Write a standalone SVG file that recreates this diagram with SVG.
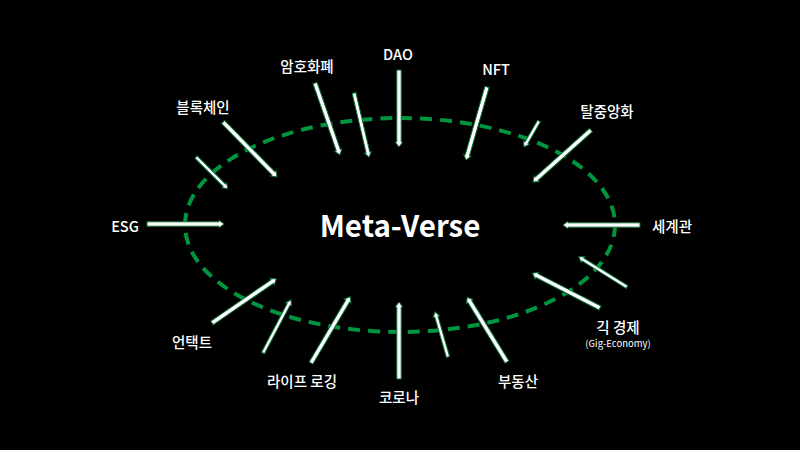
<svg xmlns="http://www.w3.org/2000/svg" width="800" height="450" viewBox="0 0 800 450">
<style>
.lbl{font-family:"Noto Sans CJK KR","Open Sans",sans-serif;font-size:14.5px;font-weight:500;fill:#ffffff;text-anchor:middle}
.sub{font-family:"Noto Sans CJK KR","Open Sans",sans-serif;font-size:9.5px;fill:#ffffff;text-anchor:middle}
.title{font-family:"Noto Sans CJK KR","Open Sans",sans-serif;font-size:29.5px;font-weight:bold;fill:#ffffff;text-anchor:middle}
.arr{fill:#ffffff;stroke:#0b6b33;stroke-width:1}
.ring{fill:none;stroke:#00953f;stroke-width:4;stroke-dasharray:12 8}
</style>
<rect width="800" height="450" fill="#000000"/>
<g id="ring"><ellipse class="ring" cx="400" cy="225" rx="215" ry="107"/></g>
<g id="connectors">
<path class="arr" transform="translate(223,122) rotate(45.5)" d="M0,-2.2 H72 V-3.8 L77,0 L72,3.8 V2.2 H0 Z"/>
<path class="arr" transform="translate(196,157) rotate(45)" d="M0,-1.7 H40 V-3.3 L45,0 L40,3.3 V1.7 H0 Z"/>
<path class="arr" transform="translate(315,83) rotate(70.85)" d="M0,-2.2 H71 V-3.8 L76,0 L71,3.8 V2.2 H0 Z"/>
<path class="arr" transform="translate(354,93) rotate(76.8)" d="M0,-1.9 H61 V-3.4 L66,0 L61,3.4 V1.9 H0 Z"/>
<path class="arr" transform="translate(399,70) rotate(90)" d="M0,-2.2 H72 V-3.8 L77,0 L72,3.8 V2.2 H0 Z"/>
<path class="arr" transform="translate(487,87) rotate(106.05)" d="M0,-2.2 H71 V-3.8 L76,0 L71,3.8 V2.2 H0 Z"/>
<path class="arr" transform="translate(539,121) rotate(120)" d="M0,-1.7 H25 V-3.3 L30,0 L25,3.3 V1.7 H0 Z"/>
<path class="arr" transform="translate(591,130) rotate(138.1)" d="M0,-2.2 H73 V-3.8 L78,0 L73,3.8 V2.2 H0 Z"/>
<path class="arr" transform="translate(640,225) rotate(180)" d="M0,-2.2 H72 V-3.8 L77,0 L72,3.8 V2.2 H0 Z"/>
<path class="arr" transform="translate(627,287) rotate(-148)" d="M0,-1.7 H52 V-3.3 L57,0 L52,3.3 V1.7 H0 Z"/>
<path class="arr" transform="translate(600,308) rotate(-152.8)" d="M0,-2.2 H71 V-3.8 L76,0 L71,3.8 V2.2 H0 Z"/>
<path class="arr" transform="translate(507,362) rotate(-121.6)" d="M0,-2.2 H71 V-3.8 L76,0 L71,3.8 V2.2 H0 Z"/>
<path class="arr" transform="translate(448,357) rotate(-106.1)" d="M0,-1.7 H42 V-3.3 L47,0 L42,3.3 V1.7 H0 Z"/>
<path class="arr" transform="translate(399,379) rotate(-90)" d="M0,-2.2 H72 V-3.8 L77,0 L72,3.8 V2.2 H0 Z"/>
<path class="arr" transform="translate(311,363) rotate(-59.4)" d="M0,-2.2 H72 V-3.8 L77,0 L72,3.8 V2.2 H0 Z"/>
<path class="arr" transform="translate(263,353) rotate(-62.2)" d="M0,-1.7 H55 V-3.3 L60,0 L55,3.3 V1.7 H0 Z"/>
<path class="arr" transform="translate(212,323) rotate(-34.5)" d="M0,-2.2 H73 V-3.8 L78,0 L73,3.8 V2.2 H0 Z"/>
<path class="arr" transform="translate(147,224) rotate(0)" d="M0,-2.2 H72 V-3.8 L77,0 L72,3.8 V2.2 H0 Z"/>
</g>
<g id="center"><text class="title" x="400" y="237">Meta-Verse</text></g>
<g id="blockchain"><text class="lbl" x="203" y="113">블록체인</text></g>
<g id="crypto"><text class="lbl" x="307" y="72">암호화폐</text></g>
<g id="dao"><text class="lbl" x="398" y="60">DAO</text></g>
<g id="nft"><text class="lbl" x="496" y="75">NFT</text></g>
<g id="decentral"><text class="lbl" x="607" y="117">탈중앙화</text></g>
<g id="esg"><text class="lbl" x="125" y="232">ESG</text></g>
<g id="worldview"><text class="lbl" x="672" y="232">세계관</text></g>
<g id="untact"><text class="lbl" x="192" y="348">언택트</text></g>
<g id="gig"><text class="lbl" x="618" y="333">긱 경제</text><text class="sub" x="618" y="347">(Gig-Economy)</text></g>
<g id="lifelog"><text class="lbl" x="302" y="387">라이프 로깅</text></g>
<g id="corona"><text class="lbl" x="399" y="403">코로나</text></g>
<g id="realestate"><text class="lbl" x="518" y="387">부동산</text></g>
</svg>
